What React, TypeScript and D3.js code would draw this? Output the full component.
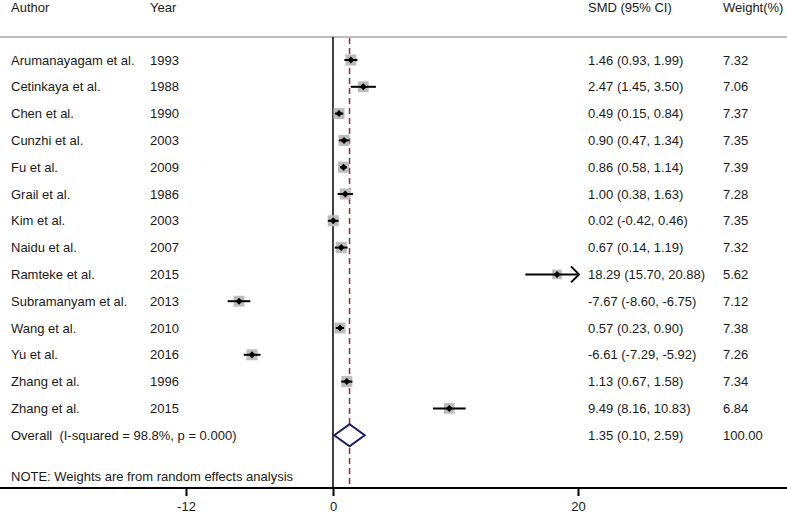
import React, { useEffect, useRef } from "react";
import * as d3 from "d3";

const authors = [
  "Arumanayagam et al.",
  "Cetinkaya et al.",
  "Chen et al.",
  "Cunzhi et al.",
  "Fu et al.",
  "Grail et al.",
  "Kim et al.",
  "Naidu et al.",
  "Ramteke et al.",
  "Subramanyam et al.",
  "Wang et al.",
  "Yu et al.",
  "Zhang et al.",
  "Zhang et al.",
];
const years = [1993, 1988, 1990, 2003, 2009, 1986, 2003, 2007, 2015, 2013, 2010, 2016, 1996, 2015];
const smd = [1.46, 2.47, 0.49, 0.9, 0.86, 1.0, 0.02, 0.67, 18.29, -7.67, 0.57, -6.61, 1.13, 9.49];
const lower = [0.93, 1.45, 0.15, 0.47, 0.58, 0.38, -0.42, 0.14, 15.7, -8.6, 0.23, -7.29, 0.67, 8.16];
const upper = [1.99, 3.5, 0.84, 1.34, 1.14, 1.63, 0.46, 1.19, 20.88, -6.75, 0.9, -5.92, 1.58, 10.83];
const weights = [7.32, 7.06, 7.37, 7.35, 7.39, 7.28, 7.35, 7.32, 5.62, 7.12, 7.38, 7.26, 7.34, 6.84];

const overall = { label: "Overall  (I-squared = 98.8%, p = 0.000)", est: 1.35, lo: 0.1, hi: 2.59, weight: 100 };
const ticks = [-12, 0, 20];
const note = "NOTE: Weights are from random effects analysis";

const W = 787;
const H = 514;

const App = () => {
  const ref = useRef<SVGSVGElement>(null);

  useEffect(() => {
    document.body.style.margin = "0";
    const svg = d3.select(ref.current);
    svg.selectAll("*").remove();

    const font = "Arial, 'Liberation Sans', sans-serif";
    const txt = "#1a1a1a";
    // plain hyphen minus like the original output
    const f = (v: number) => v.toFixed(2);

    const x = d3.scaleLinear().domain([-12, 20]).range([186, 578]);
    const xMax = 20;
    const y = d3.scaleLinear().domain([0, 1]).range([60, 86.8]);
    const axisY = 488;
    const topY = 37;

    const colAuthor = 11;
    const colYear = 150;
    const colSmd = 588;
    const colWeight = 723;

    // header
    const header = [
      ["Author", colAuthor],
      ["Year", colYear],
      ["SMD (95% CI)", colSmd],
      ["Weight(%)", colWeight],
    ];
    svg
      .selectAll("text.head")
      .data(header)
      .join("text")
      .attr("class", "head")
      .attr("x", (d) => d[1] as number)
      .attr("y", 12)
      .attr("font-family", font)
      .attr("font-size", 13)
      .attr("fill", txt)
      .text((d) => d[0] as string);

    svg
      .append("line")
      .attr("x1", 0)
      .attr("x2", W)
      .attr("y1", topY)
      .attr("y2", topY)
      .attr("stroke", "#bdbdbd")
      .attr("stroke-width", 2);

    // reference lines
    svg
      .append("line")
      .attr("x1", x(0))
      .attr("x2", x(0))
      .attr("y1", topY)
      .attr("y2", axisY)
      .attr("stroke", "#000")
      .attr("stroke-width", 1.5);

    svg
      .append("line")
      .attr("x1", x(overall.est))
      .attr("x2", x(overall.est))
      .attr("y1", topY + 1)
      .attr("y2", axisY)
      .attr("stroke", "#8b2f3c")
      .attr("stroke-width", 1.5)
      .attr("stroke-dasharray", "6,4");

    const rows = authors.map((a, i) => ({
      author: a,
      year: years[i],
      est: smd[i],
      lo: lower[i],
      hi: upper[i],
      w: weights[i],
      i,
    }));

    const g = svg.selectAll("g.row").data(rows).join("g").attr("class", "row");

    const textAttrs = (sel: any) =>
      sel.attr("font-family", font).attr("font-size", 13).attr("fill", txt);

    g.append("text")
      .attr("x", colAuthor)
      .attr("y", (d) => y(d.i) + 4.5)
      .call(textAttrs)
      .text((d) => d.author);
    g.append("text")
      .attr("x", colYear)
      .attr("y", (d) => y(d.i) + 4.5)
      .call(textAttrs)
      .text((d) => d.year);
    g.append("text")
      .attr("x", colSmd)
      .attr("y", (d) => y(d.i) + 4.5)
      .call(textAttrs)
      .text((d) => `${f(d.est)} (${f(d.lo)}, ${f(d.hi)})`);
    g.append("text")
      .attr("x", colWeight)
      .attr("y", (d) => y(d.i) + 4.5)
      .call(textAttrs)
      .text((d) => f(d.w));

    // weight boxes, area ~ weight
    const side = (w: number) => 11 * Math.sqrt(w / 7.3);
    g.append("rect")
      .attr("x", (d) => x(d.est) - side(d.w) / 2)
      .attr("y", (d) => y(d.i) - side(d.w) / 2)
      .attr("width", (d) => side(d.w))
      .attr("height", (d) => side(d.w))
      .attr("fill", "#bcbcbc");

    // CI lines
    g.append("line")
      .attr("x1", (d) => x(d.lo))
      .attr("x2", (d) => x(Math.min(d.hi, xMax)))
      .attr("y1", (d) => y(d.i))
      .attr("y2", (d) => y(d.i))
      .attr("stroke", "#000")
      .attr("stroke-width", 2);

    // arrow heads for truncated CIs
    g.filter((d) => d.hi > xMax)
      .append("path")
      .attr("d", (d) => {
        const tx = x(xMax) + 1;
        const ty = y(d.i);
        return `M${tx - 8},${ty - 8} L${tx},${ty} L${tx - 8},${ty + 8}`;
      })
      .attr("fill", "none")
      .attr("stroke", "#000")
      .attr("stroke-width", 2);

    // point estimate
    g.append("path")
      .attr("d", (d) => {
        const cx = x(d.est);
        const cy = y(d.i);
        const r = 3.5;
        return `M${cx - r},${cy} L${cx},${cy - r} L${cx + r},${cy} L${cx},${cy + r} Z`;
      })
      .attr("fill", "#000");

    // overall row
    const oy = y(rows.length);
    svg
      .append("text")
      .attr("x", colAuthor)
      .attr("y", oy + 4.5)
      .attr("xml:space", "preserve")
      .style("white-space", "pre")
      .call(textAttrs)
      .text(overall.label);
    svg
      .append("text")
      .attr("x", colSmd)
      .attr("y", oy + 4.5)
      .call(textAttrs)
      .text(`${f(overall.est)} (${f(overall.lo)}, ${f(overall.hi)})`);
    svg
      .append("text")
      .attr("x", colWeight)
      .attr("y", oy + 4.5)
      .call(textAttrs)
      .text(f(overall.weight));
    svg
      .append("path")
      .attr(
        "d",
        `M${x(overall.lo)},${oy} L${x(overall.est)},${oy - 11} L${x(overall.hi)},${oy} L${x(overall.est)},${oy + 11} Z`
      )
      .attr("fill", "#fff")
      .attr("stroke", "#1a1a6e")
      .attr("stroke-width", 2);

    // note
    svg
      .append("text")
      .attr("x", colAuthor)
      .attr("y", 480.5)
      .call(textAttrs)
      .text(note);

    // axis
    svg
      .append("line")
      .attr("x1", 0)
      .attr("x2", W)
      .attr("y1", axisY)
      .attr("y2", axisY)
      .attr("stroke", "#000")
      .attr("stroke-width", 2);

    const xAxis = d3
      .axisBottom(x)
      .tickValues(ticks)
      .tickSize(8)
      .tickPadding(6)
      .tickFormat((d) => String(d));
    const ag = svg.append("g").attr("transform", `translate(0, ${axisY})`).call(xAxis);
    ag.select(".domain").remove();
    ag.selectAll(".tick line").attr("stroke", "#000").attr("stroke-width", 2);
    ag.selectAll(".tick text")
      .attr("font-family", font)
      .attr("font-size", 13)
      .attr("fill", txt);
  }, []);

  return <svg ref={ref} width={W} height={H} style={{ display: "block", background: "#fff" }}></svg>;
};

export default App;
